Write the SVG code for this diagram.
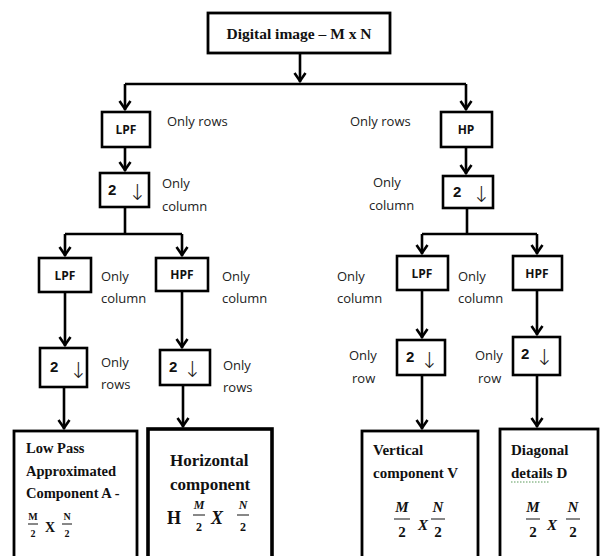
<svg xmlns="http://www.w3.org/2000/svg" width="600" height="556" viewBox="0 0 600 556">
<defs>
<marker id="ah" markerUnits="userSpaceOnUse" markerWidth="14" markerHeight="14" refX="1" refY="0" viewBox="-10 -7 12 14" orient="auto" overflow="visible">
<path d="M-8,-5.5 L0,0 L-8,5.5" fill="none" stroke="#000" stroke-width="2.6" stroke-linejoin="miter"/>
</marker>
<style>
.box{fill:#fff;stroke:#000;stroke-width:2.6}
.big{fill:#fff;stroke:#000;stroke-width:2.8}
.thick{fill:#fff;stroke:#000;stroke-width:3.6}
.ln{fill:none;stroke:#000;stroke-width:2.6}
.ar{fill:none;stroke:#000;stroke-width:2.6;marker-end:url(#ah)}
.lbl{font-family:"Open Sans","Liberation Sans",sans-serif;font-size:13px;fill:#222}
.nm{font-family:"Open Sans","Liberation Sans",sans-serif;font-size:12px;font-weight:bold;fill:#111;text-anchor:middle}
.two{font-family:"Liberation Sans",sans-serif;font-size:15px;font-weight:bold;fill:#111}
.dn{font-family:"DejaVu Sans",sans-serif;font-size:22px;font-weight:200;fill:#222}
.sr{font-family:"Liberation Serif",serif;font-weight:bold;fill:#111}
.it{font-family:"Liberation Serif",serif;font-weight:bold;font-style:italic;fill:#111;text-anchor:middle}
.fr{stroke:#111;stroke-width:1}
</style>
</defs>

<g id="connectors">
<path class="ar" d="M300,53 V82"/>
<path class="ln" d="M125,84 H466"/>
<path class="ar" d="M125,84 V110"/>
<path class="ar" d="M466,84 V110"/>
<path class="ar" d="M125,147 V171"/>
<path class="ln" d="M125,207 V234"/>
<path class="ln" d="M65,234 H182"/>
<path class="ar" d="M65,234 V256"/>
<path class="ar" d="M182,234 V256"/>
<path class="ar" d="M65,292 V346"/>
<path class="ar" d="M182,291 V348"/>
<path class="ar" d="M64,387 V429"/>
<path class="ar" d="M183,385 V427"/>
<path class="ar" d="M466,147 V174"/>
<path class="ln" d="M467,208 V234"/>
<path class="ln" d="M422,234 H537"/>
<path class="ar" d="M422,234 V254"/>
<path class="ar" d="M537,234 V254"/>
<path class="ar" d="M422,290 V338"/>
<path class="ar" d="M537,290 V335"/>
<path class="ar" d="M422,375 V429"/>
<path class="ar" d="M537,375 V427"/>
</g>

<g id="digital-image">
<rect class="big" x="208" y="13" width="182" height="40"/>
<text class="sr" x="299" y="39" font-size="15.5" text-anchor="middle">Digital image – M x N</text>
</g>

<g id="lpf-rows">
<rect class="box" x="102" y="112" width="48" height="35"/>
<text class="nm" x="126" y="134">LPF</text>
<text class="lbl" x="167" y="126">Only rows</text>
</g>
<g id="down-col-left">
<rect class="box" x="100" y="173" width="49" height="34"/>
<text class="two" x="108" y="195">2</text>
<text class="dn" x="128" y="200">↓</text>
<text class="lbl" x="162" y="188">Only</text>
<text class="lbl" x="162" y="211">column</text>
</g>
<g id="lpf-col-ll">
<rect class="box" x="39" y="258" width="52" height="34"/>
<text class="nm" x="65" y="280">LPF</text>
<text class="lbl" x="101" y="281">Only</text>
<text class="lbl" x="101" y="303">column</text>
</g>
<g id="hpf-col-lh">
<rect class="box" x="156" y="258" width="52" height="33"/>
<text class="nm" x="182" y="279">HPF</text>
<text class="lbl" x="222" y="281">Only</text>
<text class="lbl" x="222" y="303">column</text>
</g>
<g id="down-row-ll">
<rect class="box" x="40" y="348" width="47" height="39"/>
<text class="two" x="50" y="372">2</text>
<text class="dn" x="69" y="378">↓</text>
<text class="lbl" x="101" y="367">Only</text>
<text class="lbl" x="101" y="389">rows</text>
</g>
<g id="down-row-lh">
<rect class="box" x="160" y="350" width="50" height="35"/>
<text class="two" x="169" y="372">2</text>
<text class="dn" x="183" y="377">↓</text>
<text class="lbl" x="223" y="370">Only</text>
<text class="lbl" x="223" y="392">rows</text>
</g>
<g id="approx-A">
<rect class="big" x="14" y="431" width="123" height="140"/>
<text class="sr" x="26" y="453" font-size="14.5">Low Pass</text>
<text class="sr" x="26" y="476" font-size="14.5">Approximated</text>
<text class="sr" x="26" y="498" font-size="14.5">Component A -</text>
<text class="sr" x="33" y="520" font-size="10" text-anchor="middle">M</text>
<line class="fr" x1="28" y1="524" x2="38" y2="524"/>
<text class="sr" x="33" y="537" font-size="10" text-anchor="middle">2</text>
<text class="sr" x="50" y="532" font-size="14" text-anchor="middle">X</text>
<text class="sr" x="67" y="520" font-size="10" text-anchor="middle">N</text>
<line class="fr" x1="62" y1="524" x2="72" y2="524"/>
<text class="sr" x="67" y="537" font-size="10" text-anchor="middle">2</text>
</g>
<g id="horizontal-H">
<rect class="thick" x="148" y="429" width="124" height="140"/>
<text class="sr" x="170" y="466" font-size="17">Horizontal</text>
<text class="sr" x="170" y="490" font-size="17">component</text>
<text class="sr" x="174" y="524" font-size="18" text-anchor="middle">H</text>
<text class="it" x="199" y="509" font-size="12">M</text>
<line class="fr" x1="193" y1="515" x2="205" y2="515"/>
<text class="sr" x="199" y="531" font-size="12" text-anchor="middle">2</text>
<text class="it" x="217" y="524" font-size="18">X</text>
<text class="it" x="243" y="509" font-size="12">N</text>
<line class="fr" x1="237" y1="515" x2="249" y2="515"/>
<text class="sr" x="243" y="531" font-size="12" text-anchor="middle">2</text>
</g>

<g id="hp-rows">
<rect class="box" x="441" y="112" width="51" height="35"/>
<text class="nm" x="466" y="134">HP</text>
<text class="lbl" x="350" y="126">Only rows</text>
</g>
<g id="down-col-right">
<rect class="box" x="443" y="176" width="50" height="32"/>
<text class="two" x="453" y="197">2</text>
<text class="dn" x="472" y="202">↓</text>
<text class="lbl" x="373" y="187">Only</text>
<text class="lbl" x="369" y="210">column</text>
</g>
<g id="lpf-col-hl">
<rect class="box" x="397" y="256" width="51" height="34"/>
<text class="nm" x="422" y="278">LPF</text>
<text class="lbl" x="337" y="281">Only</text>
<text class="lbl" x="337" y="303">column</text>
</g>
<g id="hpf-col-hh">
<rect class="box" x="513" y="256" width="49" height="34"/>
<text class="nm" x="537" y="278">HPF</text>
<text class="lbl" x="458" y="281">Only</text>
<text class="lbl" x="458" y="303">column</text>
</g>
<g id="down-row-hl">
<rect class="box" x="397" y="340" width="48" height="35"/>
<text class="two" x="406" y="362">2</text>
<text class="dn" x="420" y="368">↓</text>
<text class="lbl" x="349" y="360">Only</text>
<text class="lbl" x="352" y="383">row</text>
</g>
<g id="down-row-hh">
<rect class="box" x="513" y="337" width="47" height="38"/>
<text class="two" x="521" y="359">2</text>
<text class="dn" x="535" y="365">↓</text>
<text class="lbl" x="475" y="360">Only</text>
<text class="lbl" x="478" y="383">row</text>
</g>
<g id="vertical-V">
<rect class="big" x="362" y="431" width="116" height="140"/>
<text class="sr" x="373" y="455" font-size="15">Vertical</text>
<text class="sr" x="373" y="478" font-size="15">component V</text>
<text class="it" x="402" y="512" font-size="15">M</text>
<line class="fr" x1="394" y1="519" x2="410" y2="519"/>
<text class="sr" x="402" y="537" font-size="15" text-anchor="middle">2</text>
<text class="it" x="423" y="530" font-size="15">X</text>
<text class="it" x="438" y="512" font-size="15">N</text>
<line class="fr" x1="431" y1="519" x2="445" y2="519"/>
<text class="sr" x="438" y="537" font-size="15" text-anchor="middle">2</text>
</g>
<g id="diagonal-D">
<rect class="big" x="500" y="429" width="98" height="140"/>
<text class="sr" x="511" y="455" font-size="15">Diagonal</text>
<text class="sr" x="511" y="478" font-size="15">details  D</text>
<path d="M511,482 H550" stroke="#5a9a5a" stroke-width="1" stroke-dasharray="1.5,1.5" fill="none"/>
<text class="it" x="533" y="512" font-size="15">M</text>
<line class="fr" x1="526" y1="519" x2="540" y2="519"/>
<text class="sr" x="533" y="537" font-size="15" text-anchor="middle">2</text>
<text class="it" x="552" y="530" font-size="15">X</text>
<text class="it" x="573" y="512" font-size="15">N</text>
<line class="fr" x1="566" y1="519" x2="580" y2="519"/>
<text class="sr" x="573" y="537" font-size="15" text-anchor="middle">2</text>
</g>
</svg>
